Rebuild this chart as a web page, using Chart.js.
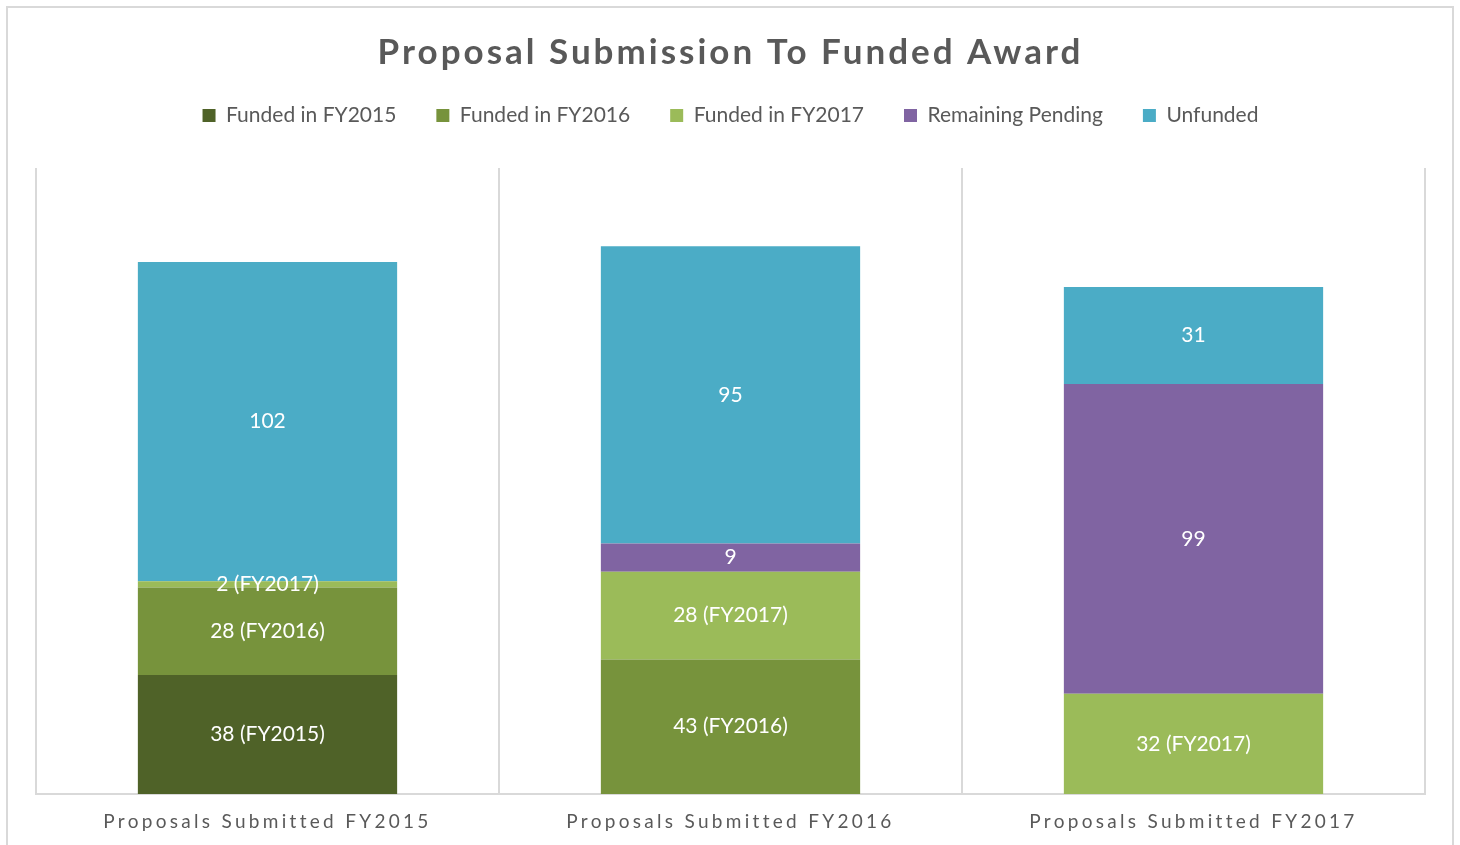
<!DOCTYPE html>
<html lang="en">
<head>
  <meta charset="UTF-8" />
  <title>Proposal Submission To Funded Award</title>
  <script src="https://cdn.jsdelivr.net/npm/chart.js"></script>
  <style>
    html, body {
      margin: 0;
      padding: 0;
      background: #fff;
      overflow: hidden;
    }
    #wrap {
      position: relative;
      width: 1460px;
      height: 845px;
    }
    #frame {
      position: absolute;
      left: 6px;
      top: 6px;
      width: 1448px;
      height: 900px;
      border: 2px solid #d9d9d9;
      box-sizing: border-box;
      pointer-events: none;
    }
    canvas {
      position: absolute;
      left: 0;
      top: 0;
    }
  </style>
</head>
<body>
  <div id="wrap">
    <canvas id="awardChart" width="1460" height="845"></canvas>
    <div id="frame"></div>
  </div>
  <script>
    const categories = ['Proposals Submitted FY2015', 'Proposals Submitted FY2016', 'Proposals Submitted FY2017'];
    const fundedFY2015 = [38, 0, 0];
    const fundedFY2016 = [28, 43, 0];
    const fundedFY2017 = [2, 28, 32];
    const remainingPending = [0, 9, 99];
    const unfunded = [102, 95, 31];

    const seriesNames = ['Funded in FY2015', 'Funded in FY2016', 'Funded in FY2017', 'Remaining Pending', 'Unfunded'];
    const labelSuffix = [' (FY2015)', ' (FY2016)', ' (FY2017)', '', ''];
    const colors = ['#4f6228', '#77933c', '#9bbb59', '#8064a2', '#4bacc6'];
    const series = [fundedFY2015, fundedFY2016, fundedFY2017, remainingPending, unfunded];

    const FONT = "Lato, 'Open Sans', sans-serif";
    const GREY = '#595959';

    // wrap a method of a chart box so it runs with some extra behaviour
    function wrap(obj, fn, make) {
      if (!obj || obj['_orig_' + fn]) return;
      const orig = obj[fn];
      obj['_orig_' + fn] = orig;
      obj[fn] = make(orig);
    }

    const withSpacing = ls => orig => function (...args) {
      const ctx = this.ctx;
      const prev = ctx.letterSpacing;
      ctx.letterSpacing = ls;
      orig.apply(this, args);
      ctx.letterSpacing = prev || '0px';
    };

    const boxTweaks = {
      id: 'boxTweaks',
      beforeLayout(chart) {
        // leave a gap between the legend row and the plot
        wrap(chart.legend, 'fit', orig => function (...args) {
          orig.apply(this, args);
          this.height += 32;
        });
      },
      afterLayout(chart) {
        wrap(chart.titleBlock, 'draw', withSpacing('3px'));
        wrap(chart.scales.x, 'drawLabels', withSpacing('3.3px'));
      }
    };

    // value labels centred in each stacked segment
    const segmentLabels = {
      id: 'segmentLabels',
      afterDatasetsDraw(chart) {
        const ctx = chart.ctx;
        ctx.save();
        ctx.font = '21px ' + FONT;
        ctx.fillStyle = '#ffffff';
        ctx.textAlign = 'center';
        ctx.textBaseline = 'middle';
        chart.data.datasets.forEach((ds, i) => {
          const meta = chart.getDatasetMeta(i);
          meta.data.forEach((bar, j) => {
            const v = ds.data[j];
            if (!v) return;
            ctx.fillText(v + labelSuffix[i], bar.x, (bar.y + bar.base) / 2);
          });
        });
        ctx.restore();
      }
    };

    new Chart(document.getElementById('awardChart'), {
      type: 'bar',
      data: {
        labels: categories,
        datasets: series.map((d, i) => ({
          label: seriesNames[i],
          data: d,
          backgroundColor: colors[i],
          borderWidth: 0,
          categoryPercentage: 1,
          barPercentage: 0.56
        }))
      },
      options: {
        responsive: false,
        animation: false,
        layout: {
          padding: { top: 32, left: 36, right: 35, bottom: 0 }
        },
        plugins: {
          title: {
            display: true,
            text: 'Proposal Submission To Funded Award',
            color: GREY,
            font: { family: FONT, size: 35, weight: 'bold' },
            padding: { top: 0, bottom: -9 }
          },
          legend: {
            position: 'top',
            labels: {
              color: GREY,
              font: { family: FONT, size: 21 },
              boxWidth: 13,
              boxHeight: 13,
              padding: 40
            }
          },
          tooltip: { enabled: false }
        },
        scales: {
          x: {
            stacked: true,
            grid: {
              color: '#d9d9d9',
              lineWidth: 2,
              drawTicks: false
            },
            border: { color: '#d9d9d9', width: 2 },
            ticks: {
              color: GREY,
              font: { family: FONT, size: 19 },
              padding: 16
            },
            afterFit(scale) {
              scale.height = 51;
            }
          },
          y: {
            stacked: true,
            display: false,
            min: 0,
            max: 200
          }
        }
      },
      plugins: [boxTweaks, segmentLabels]
    });
  </script>
</body>
</html>
